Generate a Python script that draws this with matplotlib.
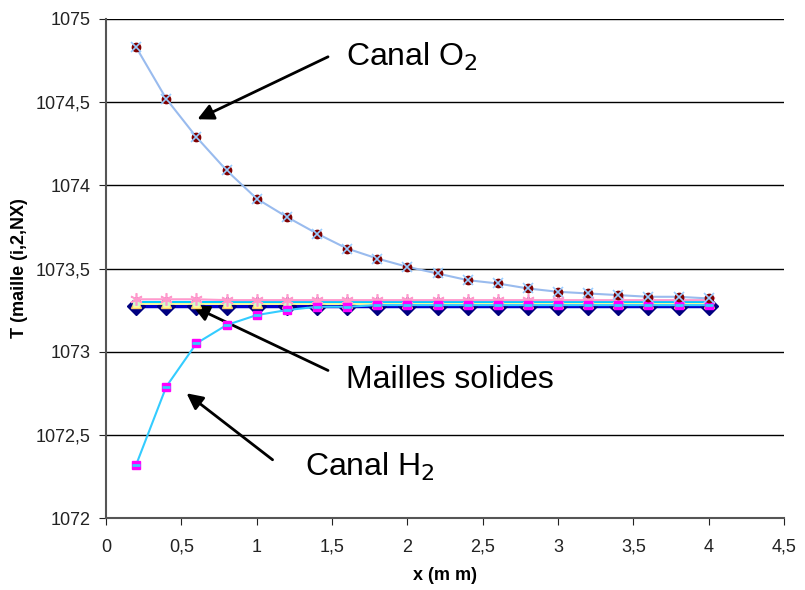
import matplotlib.pyplot as plt
from matplotlib.ticker import FuncFormatter

plt.rcParams['font.family'] = ['Liberation Sans', 'DejaVu Sans']

# positions le long du canal (mm)
x = [0.2, 0.4, 0.6, 0.8, 1.0, 1.2, 1.4, 1.6, 1.8, 2.0,
     2.2, 2.4, 2.6, 2.8, 3.0, 3.2, 3.4, 3.6, 3.8, 4.0]

# canal O2
t_o2 = [1074.83, 1074.52, 1074.29, 1074.09, 1073.92, 1073.81, 1073.71, 1073.62, 1073.56, 1073.51,
        1073.47, 1073.43, 1073.41, 1073.38, 1073.36, 1073.35, 1073.34, 1073.33, 1073.33, 1073.32]

# canal H2
t_h2 = [1072.32, 1072.79, 1073.05, 1073.16, 1073.22, 1073.25, 1073.27, 1073.27, 1073.28, 1073.28,
        1073.28, 1073.28, 1073.28, 1073.28, 1073.28, 1073.28, 1073.28, 1073.28, 1073.28, 1073.28]

# mailles solides
t_s1 = [1073.275, 1073.275, 1073.275, 1073.275, 1073.275, 1073.275, 1073.275, 1073.275, 1073.275, 1073.275,
        1073.275, 1073.275, 1073.275, 1073.275, 1073.275, 1073.275, 1073.275, 1073.275, 1073.275, 1073.275]
t_s2 = [1073.29, 1073.29, 1073.29, 1073.29, 1073.29, 1073.29, 1073.29, 1073.29, 1073.29, 1073.29,
        1073.29, 1073.29, 1073.29, 1073.29, 1073.29, 1073.29, 1073.29, 1073.29, 1073.29, 1073.29]
t_s3 = [1073.30, 1073.30, 1073.30, 1073.30, 1073.30, 1073.30, 1073.30, 1073.30, 1073.30, 1073.30,
        1073.30, 1073.30, 1073.30, 1073.30, 1073.30, 1073.30, 1073.30, 1073.30, 1073.30, 1073.30]
t_s4 = [1073.315, 1073.315, 1073.315, 1073.31, 1073.31, 1073.31, 1073.31, 1073.31, 1073.31, 1073.31,
        1073.31, 1073.31, 1073.31, 1073.31, 1073.31, 1073.31, 1073.31, 1073.31, 1073.31, 1073.31]

fig = plt.figure(figsize=(8.05, 5.9), dpi=100)
ax = fig.add_axes([0.1317, 0.122, 0.8423, 0.8458])

# solides
ax.plot(x, t_s1, color='#0000CC', lw=2.5, marker='D', ms=9, mfc='#000080', mec='#000080', zorder=3)
ax.plot(x, t_s2, color='#FFFF99', lw=2, marker='^', ms=7, mfc='#FFFF99', mec='#FFCC66', zorder=4)
ax.plot(x, t_s3, color='#00CCFF', lw=1.5, marker='s', ms=5, mfc='#CCFFCC', mec='#CCFFCC', zorder=4)
ax.plot(x, t_s4, color='#FF99CC', lw=1.5, marker=(6, 2, 0), ms=9, mec='#FF99CC', mew=1.2, zorder=5)

# canal H2
ax.plot(x, t_h2, color='#33CCFF', lw=1.5, marker='s', ms=6, mfc='#FF00FF', mec='#FF00FF', zorder=6)
ax.plot(x, t_h2, ls='none', marker='_', ms=6, mec='#33CCFF', mew=2, zorder=7)

# canal O2
ax.plot(x, t_o2, color='#99BBEE', lw=1.5, marker='o', ms=6, mfc='#800000', mec='#800000', zorder=6)
ax.plot(x, t_o2, ls='none', marker='x', ms=7, mec='#99CCFF', mew=1.2, zorder=7)

ax.set_xlim(0, 4.5)
ax.set_ylim(1072, 1075)
ax.set_xticks([0, 0.5, 1, 1.5, 2, 2.5, 3, 3.5, 4, 4.5])
ax.set_yticks([1072, 1072.5, 1073, 1073.5, 1074, 1074.5, 1075])
fmt = FuncFormatter(lambda v, p: ('%g' % v).replace('.', ','))
ax.xaxis.set_major_formatter(fmt)
ax.yaxis.set_major_formatter(fmt)
ax.tick_params(direction='out', length=5, labelsize=13, colors='#222222', pad=6)
ax.tick_params(axis='x', pad=10)

ax.grid(axis='y', color='black', lw=1)
ax.set_axisbelow(True)
for s in ['top', 'right']:
    ax.spines[s].set_visible(False)
ax.spines['left'].set_color('#555555')
ax.spines['bottom'].set_color('#555555')
ax.spines['left'].set_linewidth(1.5)
ax.spines['bottom'].set_linewidth(1.5)

ax.set_xlabel('x (m m)', fontsize=13, fontweight='bold', labelpad=8)
ax.set_ylabel('T (maille (i,2,NX)', fontsize=13, fontweight='bold', labelpad=6)

arrow = dict(arrowstyle='-|>', color='black', lw=2, mutation_scale=24)
ax.annotate('', xy=(0.59, 1074.39), xytext=(1.49, 1074.78), arrowprops=arrow)
ax.annotate('', xy=(0.56, 1073.28), xytext=(1.49, 1072.88), arrowprops=arrow)
ax.annotate('', xy=(0.52, 1072.76), xytext=(1.12, 1072.34), arrowprops=arrow)

ax.text(1.59, 1074.77, 'Canal O$_2$', fontsize=23, va='center')
ax.text(1.59, 1072.83, 'Mailles solides', fontsize=23, va='center')
ax.text(1.32, 1072.31, 'Canal H$_2$', fontsize=23, va='center')

fig.savefig('out.png', dpi=100)
